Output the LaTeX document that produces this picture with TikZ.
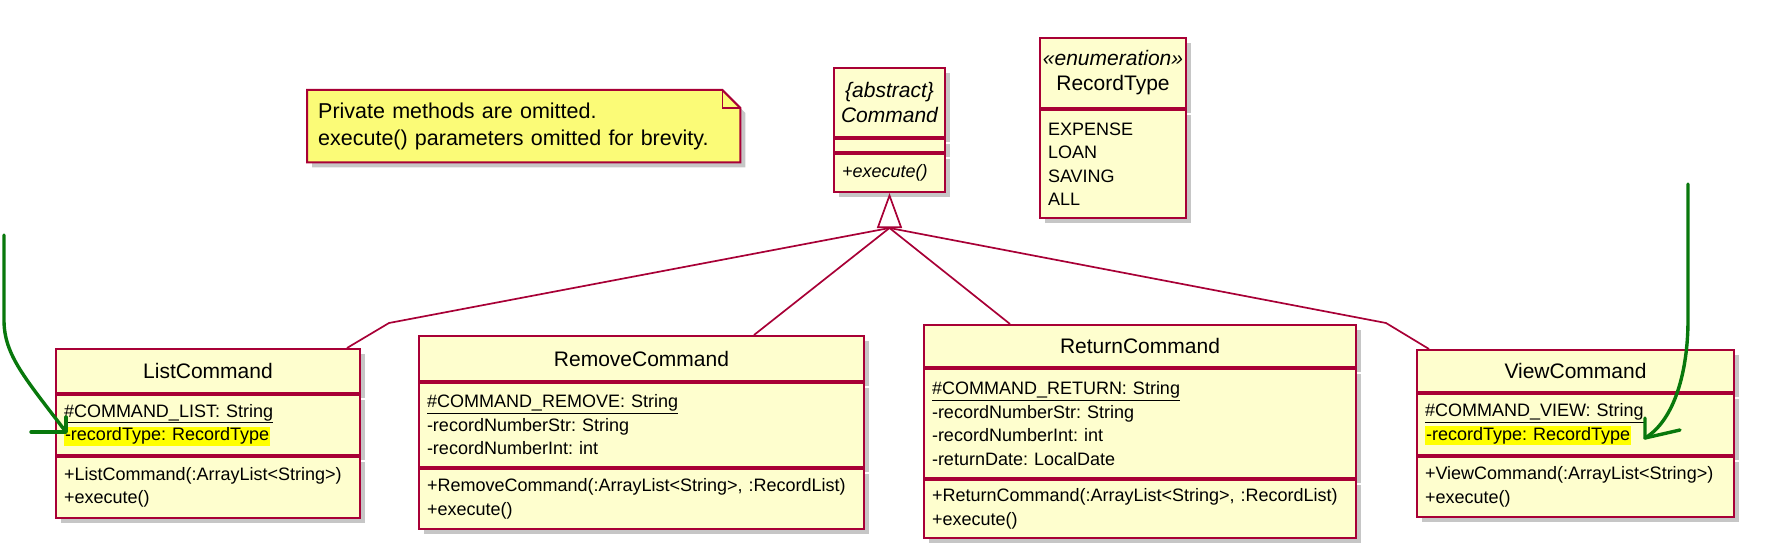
\documentclass[tikz,border=0pt]{standalone}
\usepackage{fontspec}
\setmainfont{Liberation Sans}
\frenchspacing
\usetikzlibrary{arrows.meta, positioning, calc, shadows, backgrounds}
\definecolor{umlred}{HTML}{A80036}
\definecolor{umlfill}{HTML}{FEFECE}
\definecolor{notefill}{HTML}{FBFB77}
\definecolor{pengreen}{HTML}{08780C}
\definecolor{marker}{HTML}{FFFF00}
\newcommand{\hlite}[1]{{\fboxsep=1pt\colorbox{marker}{#1}}}
\newcommand{\static}[1]{\underline{#1}}

\begin{document}
\begin{tikzpicture}[
    x=1pt, y=-1pt,
    box/.style={draw=umlred, fill=umlfill, line width=2pt, inner sep=0pt,
                drop shadow={shadow xshift=5pt, shadow yshift=-5pt, fill=black!50, opacity=0.45}},
    head/.style={box, align=center, font=\fontsize{21}{25}\selectfont},
    part/.style={box, align=left, font=\fontsize{18}{23.5}\selectfont, inner xsep=8pt, inner ysep=0pt},
    notebox/.style={align=left, font=\fontsize{21.5}{27}\selectfont, inner xsep=11pt, inner ysep=0pt},
    gen/.style={draw=umlred, line width=1.7pt},
    pen/.style={draw=pengreen, line width=3.4pt, line cap=round, line join=round},
]
\useasboundingbox (0,0) rectangle (1792,559);

% Note
\node[notebox, anchor=north west, minimum width=433, minimum height=72, text width=411] (note) at (307,90)
    {Private methods are omitted.\\execute() parameters omitted for brevity.};
\begin{scope}[on background layer]
\draw[draw=umlred, fill=notefill, line width=2pt,
      drop shadow={shadow xshift=5pt, shadow yshift=-5pt, fill=black!50, opacity=0.45}]
    (note.north west) -- ($(note.north east)+(-18,0)$) -- ($(note.north east)+(0,18)$)
    -- (note.south east) -- (note.south west) -- cycle;
\draw[draw=umlred, line width=1.5pt] ($(note.north east)+(-18,0)$) -- ($(note.north east)+(-18,18)$) -- ($(note.north east)+(0,18)$);
\end{scope}

% Command (abstract)
\node[head, minimum width=111, minimum height=69, anchor=north west, font=\fontsize{21}{25}\selectfont\itshape] (chead) at (833,67) {\{abstract\}\\Command};
\node[part, text width=95, minimum height=13, below=0pt of chead] (cattr) {};
\node[part, text width=95, minimum height=38, below=0pt of cattr, font=\fontsize{18}{23.5}\selectfont\itshape] (cops) {+execute()};

% RecordType enumeration
\node[head, minimum width=146, minimum height=70, anchor=north west] (ehead) at (1039,37) {{\itshape «enumeration»}\\RecordType};
\node[part, text width=130, minimum height=108, below=0pt of ehead] (eattr) {EXPENSE\\LOAN\\SAVING\\ALL};

% ListCommand
\node[head, minimum width=304, minimum height=44, anchor=north west] (lhead) at (55,348) {ListCommand};
\node[part, text width=288, minimum height=60, below=0pt of lhead] (lattr)
    {\static{\#COMMAND\_LIST: String}\\\hlite{-recordType: RecordType}};
\node[part, text width=288, minimum height=61, below=0pt of lattr] (lops)
    {+ListCommand(:ArrayList<String>)\\+execute()};

% RemoveCommand
\node[head, minimum width=445, minimum height=45, anchor=north west] (rhead) at (418,335) {RemoveCommand};
\node[part, text width=429, minimum height=84, below=0pt of rhead] (rattr)
    {\static{\#COMMAND\_REMOVE: String}\\-recordNumberStr: String\\-recordNumberInt: int};
\node[part, text width=429, minimum height=60, below=0pt of rattr] (rops)
    {+RemoveCommand(:ArrayList<String>, :RecordList)\\+execute()};

% ReturnCommand
\node[head, minimum width=432, minimum height=42, anchor=north west] (thead) at (923,324) {ReturnCommand};
\node[part, text width=416, minimum height=109, below=0pt of thead] (tattr)
    {\static{\#COMMAND\_RETURN: String}\\-recordNumberStr: String\\-recordNumberInt: int\\-returnDate: LocalDate};
\node[part, text width=416, minimum height=58, below=0pt of tattr] (tops)
    {+ReturnCommand(:ArrayList<String>, :RecordList)\\+execute()};

% ViewCommand
\node[head, minimum width=317, minimum height=42, anchor=north west] (vhead) at (1416,349) {ViewCommand};
\node[part, text width=301, minimum height=61, below=0pt of vhead] (vattr)
    {\static{\#COMMAND\_VIEW: String}\\\hlite{-recordType: RecordType}};
\node[part, text width=301, minimum height=60, below=0pt of vattr] (vops)
    {+ViewCommand(:ArrayList<String>)\\+execute()};

% Generalisation
\coordinate (genbase) at ($(cops.south)+(0,35)$);
\coordinate (lbend) at (389,323);
\coordinate (vbend) at (1386,323);
\draw[gen, -{Triangle[open, length=35pt, width=25pt]}] (genbase) -- (cops.south);
\draw[gen] (genbase) -- (lbend) -- ($(lhead.north west)+(292,0)$);
\draw[gen] (genbase) -- ($(rhead.north west)+(336,0)$);
\draw[gen] (genbase) -- ($(thead.north west)+(87,0)$);
\draw[gen] (genbase) -- (vbend) -- ($(vhead.north west)+(13,0)$);

% Hand-drawn marks
\coordinate (lstart) at (4,235);
\coordinate (ltip) at (66,432);
\draw[pen] (lstart) -- (4,320) .. controls (4,355) and (25,378) .. (ltip);
\draw[pen] (31,432) -- (ltip) -- (66,417);
\coordinate (vstart) at (1688,184);
\coordinate (vtip) at (1645,438);
\draw[pen] (vstart) -- (1688,320) .. controls (1688,370) and (1675,420) .. (vtip);
\draw[pen] (1680,430) -- (vtip) -- (1645,418);

\end{tikzpicture}
\end{document}
